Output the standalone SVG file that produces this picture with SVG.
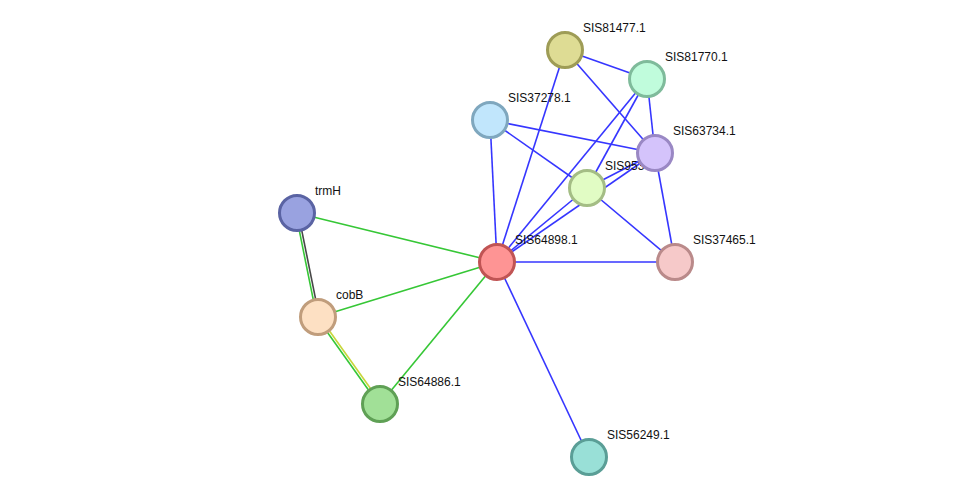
<svg xmlns="http://www.w3.org/2000/svg" width="976" height="502" viewBox="0 0 976 502">
<style>
.e{stroke-width:1.6;fill:none}
.b{stroke:#3636ff}
.g{stroke:#36c736}
.k{stroke:#474747}
.y{stroke:#c8d63a}
.n{stroke-width:3}
text{font-family:"Liberation Sans",Arial,sans-serif;font-size:12px;fill:#111}
</style>
<rect width="976" height="502" fill="#ffffff"/>
<g id="edges">
<line class="e b" x1="565" y1="50" x2="647" y2="79"/>
<line class="e b" x1="565" y1="50" x2="655" y2="153"/>
<line class="e b" x1="565" y1="50" x2="497" y2="262"/>
<line class="e b" x1="647" y1="79" x2="655" y2="153"/>
<line class="e b" x1="647" y1="79" x2="497" y2="262"/>
<line class="e b" x1="647" y1="79" x2="587" y2="188"/>
<line class="e b" x1="490" y1="120" x2="655" y2="153"/>
<line class="e b" x1="490" y1="120" x2="587" y2="188"/>
<line class="e b" x1="490" y1="120" x2="497" y2="262"/>
<line class="e b" x1="655" y1="153" x2="587" y2="188"/>
<line class="e b" x1="655" y1="153" x2="497" y2="262"/>
<line class="e b" x1="655" y1="153" x2="675" y2="262"/>
<line class="e b" x1="587" y1="188" x2="497" y2="262"/>
<line class="e b" x1="587" y1="188" x2="675" y2="262"/>
<line class="e b" x1="497" y1="262" x2="675" y2="262"/>
<line class="e b" x1="497" y1="262" x2="589" y2="457"/>
<line class="e g" x1="497" y1="262" x2="297" y2="213"/>
<line class="e g" x1="497" y1="262" x2="318" y2="317"/>
<line class="e g" x1="497" y1="262" x2="380" y2="404"/>
<line class="e g" x1="295.8" y1="213.2" x2="316.8" y2="317.2"/>
<line class="e k" x1="298.2" y1="212.8" x2="319.2" y2="316.8"/>
<line class="e y" x1="319" y1="316.3" x2="381" y2="403.3"/>
<line class="e g" x1="317" y1="317.7" x2="379" y2="404.7"/>
</g>
<g id="SIS81477.1"><circle class="n" cx="565" cy="50" r="17.5" fill="#dedc94" stroke="#9e9c56"/><text x="583" y="32">SIS81477.1</text></g>
<g id="SIS81770.1"><circle class="n" cx="647" cy="79" r="17.5" fill="#c0fcdc" stroke="#7fbb9b"/><text x="665" y="61">SIS81770.1</text></g>
<g id="SIS37278.1"><circle class="n" cx="490" cy="120" r="17.5" fill="#c1e6fc" stroke="#7fa7be"/><text x="508" y="102">SIS37278.1</text></g>
<g id="SIS953"><circle class="n" cx="587" cy="188" r="17.5" fill="#e1fcc4" stroke="#a4bd85"/><text x="605" y="170">SIS953</text></g>
<g id="SIS63734.1"><circle class="n" cx="655" cy="153" r="17.5" fill="#d4c3fb" stroke="#9a88c4"/><text x="673" y="135">SIS63734.1</text></g>
<g id="SIS64898.1"><circle class="n" cx="497" cy="262" r="17.5" fill="#fe9494" stroke="#c05454"/><text x="515" y="244">SIS64898.1</text></g>
<g id="SIS37465.1"><circle class="n" cx="675" cy="262" r="17.5" fill="#f6c9c9" stroke="#ba8a8a"/><text x="693" y="244">SIS37465.1</text></g>
<g id="trmH"><circle class="n" cx="297" cy="213" r="17.5" fill="#99a2e0" stroke="#5a63a3"/><text x="315" y="195">trmH</text></g>
<g id="cobB"><circle class="n" cx="318" cy="317" r="17.5" fill="#fde0c3" stroke="#c09d7c"/><text x="336" y="299">cobB</text></g>
<g id="SIS64886.1"><circle class="n" cx="380" cy="404" r="17.5" fill="#a1e097" stroke="#5fa055"/><text x="398" y="386">SIS64886.1</text></g>
<g id="SIS56249.1"><circle class="n" cx="589" cy="457" r="17.5" fill="#99e0d7" stroke="#5a9e96"/><text x="607" y="439">SIS56249.1</text></g>
</svg>
